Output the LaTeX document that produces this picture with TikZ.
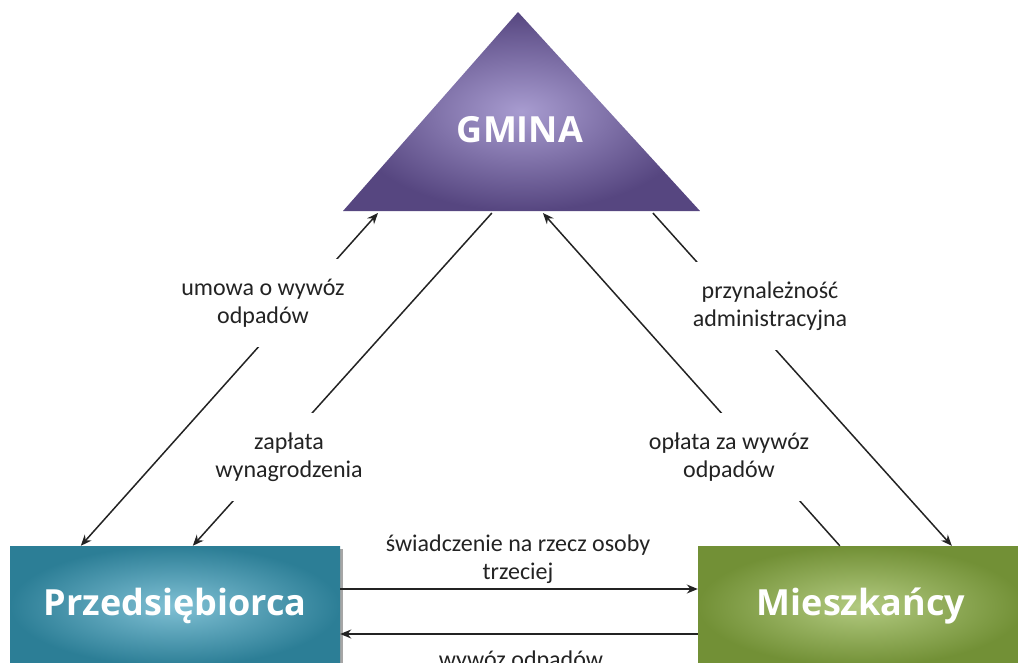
\documentclass[tikz,border=0pt]{standalone}
\usepackage{fontspec}
\setmainfont{Carlito}
\newfontfamily\titlefont{Open Sans}
\usetikzlibrary{arrows.meta,calc,shadows}
\definecolor{gmdark}{RGB}{86,70,128}
\definecolor{gmlight}{RGB}{168,156,208}
\definecolor{pdark}{RGB}{44,126,150}
\definecolor{plight}{RGB}{128,192,212}
\definecolor{mdark}{RGB}{114,144,54}
\definecolor{mlight}{RGB}{178,202,128}
\definecolor{ink}{RGB}{35,35,35}
\begin{document}
\begin{tikzpicture}[x=1pt,y=-1pt,
  titletext/.style={text=white, font=\titlefont\bfseries\fontsize{36}{40}\selectfont, inner sep=0pt},
  box/.style={titletext, minimum height=120pt},
  lbl/.style={fill=white, align=center, text=ink, font=\fontsize{24}{28}\selectfont, minimum height=88pt, inner xsep=2pt, inner ysep=0pt},
  txt/.style={align=center, text=ink, font=\fontsize{24}{28}\selectfont, inner sep=0pt},
  conn/.style={draw=ink, line width=1.5pt},
  arr/.style={-{Stealth[length=11pt,width=9pt]}},
  arrboth/.style={{Stealth[length=11pt,width=9pt]}-{Stealth[length=11pt,width=9pt]}}]
\path[use as bounding box] (0,0) rectangle (1018,662);
\clip (0,0) rectangle (1018,662);
% GMINA triangle
\coordinate (gA) at (518,12);
\coordinate (gL) at (343,211);
\coordinate (gR) at (700,211);
\shade[inner color=gmlight, outer color=gmdark] (gL) -- (gA) -- (gR) -- cycle;
\node[titletext] (G) at (520,130) {GMINA};
% boxes
\node[box, inner color=plight, outer color=pdark, minimum width=330pt,
      drop shadow={shadow xshift=3pt, shadow yshift=-3pt, fill=black, opacity=0.35}] (P) at (175,606) {Przedsiębiorca};
\node[box, inner color=mlight, outer color=mdark, minimum width=326pt] (M) at (861,606) {Mieszkańcy};
% connector end points
\coordinate (g1) at ($(gL)!0.098!(gR)+(0,2)$);
\coordinate (g2) at ($(gL)!0.417!(gR)+(0,2)$);
\coordinate (g3) at ($(gL)!0.560!(gR)+(0,2)$);
\coordinate (g4) at ($(gL)!0.868!(gR)+(0,2)$);
\coordinate (p1) at ([xshift=71pt]P.north west);
\coordinate (p2) at ([xshift=183pt]P.north west);
\coordinate (m1) at ([xshift=142pt]M.north west);
\coordinate (m2) at ([xshift=254pt]M.north west);
% diagonal connectors
\draw[conn, arrboth] (p1) -- (g1);
\draw[conn, arr] (g2) -- (p2);
\draw[conn, arr] (m1) -- (g3);
\draw[conn, arr] (g4) -- (m2);
% labels breaking the connectors
\node[lbl] (L1) at (263,303) {umowa o wywóz\\odpadów};
\node[lbl] (L2) at (289,457) {zapłata\\wynagrodzenia};
\node[lbl] (L3) at (729,457) {opłata za wywóz\\odpadów};
\node[lbl] (L4) at (770,306) {przynależność\\administracyjna};
% horizontal connectors
\draw[conn, arr] ([yshift=17pt]P.east) -- ([yshift=17pt]M.west);
\draw[conn, arr] ([yshift=-28pt]M.west) -- ([yshift=-28pt]P.east);
\node[txt] (S) at (518,559) {świadczenie na rzecz osoby\\trzeciej};
\node[txt, anchor=base] (W) at (521,667) {wywóz odpadów};
\end{tikzpicture}
\end{document}
